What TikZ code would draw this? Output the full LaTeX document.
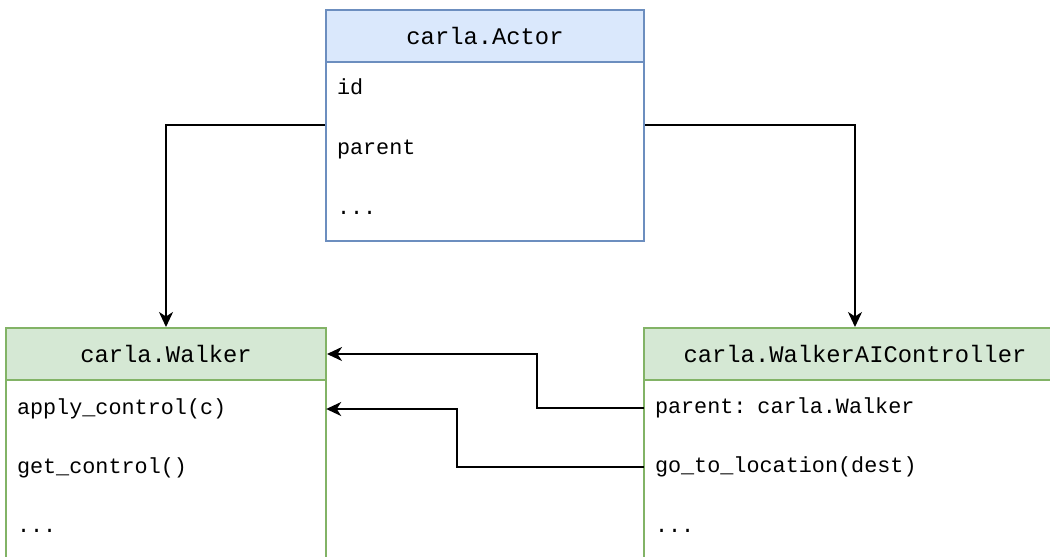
\documentclass[tikz,border=0pt]{standalone}
\usepackage{fontspec}
\newfontfamily\classmono{Liberation Mono}
\usetikzlibrary{arrows.meta}
\definecolor{blueFill}{HTML}{DAE8FC}
\definecolor{blueLine}{HTML}{6C8EBF}
\definecolor{greenFill}{HTML}{D5E8D4}
\definecolor{greenLine}{HTML}{82B366}
\tikzset{
  classbox/.style={rectangle, draw=#1, line width=2pt, fill=white, inner sep=0pt,
    minimum height=231pt},
  classhead/.style={rectangle, draw=#1, line width=2pt, inner sep=0pt,
    minimum height=52pt, font=\classmono\fontsize{23.8}{26}\selectfont},
  classrow/.style={rectangle, inner sep=0pt, minimum height=58pt, text width=#1,
    text height=15pt, text depth=5pt,
    align=left, font=\classmono\fontsize{21.8}{24}\selectfont},
  link/.style={line width=2pt, -{Stealth[length=15pt,width=14pt,inset=4.5pt]}}
}
\begin{document}
\begin{tikzpicture}[x=1pt,y=-1pt]
\useasboundingbox (0,0) rectangle (1050,557);
\begin{scope}
\clip (0,0) rectangle (1050,557);
% carla.Actor
\node[classbox=blueLine, minimum width=318pt] (actor) at (485,125) {};
\node[classhead=blueLine, fill=blueFill, minimum width=318pt] (actor-head) at (485,36) {carla.Actor};
\node[classrow=296pt] (actor-id) at (485,89) {id};
\node[classrow=296pt] (actor-parent) at (485,149) {parent};
\node[classrow=296pt] (actor-more) at (485,209) {...};
% carla.Walker
\node[classbox=greenLine, minimum width=320pt] (walker) at (166,443.5) {};
\node[classhead=greenLine, fill=greenFill, minimum width=320pt] (walker-head) at (166,354) {carla.Walker};
\node[classrow=298pt, minimum width=320pt] (walker-apply) at (166,409) {apply\_control(c)};
\node[classrow=298pt] (walker-get) at (166,468) {get\_control()};
\node[classrow=298pt] (walker-more) at (166,527) {...};
% carla.WalkerAIController
\node[classbox=greenLine, minimum width=422pt] (ctrl) at (855,443.5) {};
\node[classhead=greenLine, fill=greenFill, minimum width=422pt] (ctrl-head) at (855,354) {carla.WalkerAIController};
\node[classrow=400pt, minimum width=422pt] (ctrl-parent) at (855,408) {parent: carla.Walker};
\node[classrow=400pt, minimum width=422pt] (ctrl-goto) at (855,467) {go\_to\_location(dest)};
\node[classrow=400pt] (ctrl-more) at (855,527) {...};
\end{scope}
% inheritance and reference links
\draw[link] (actor.west) -| (walker.north);
\draw[link] (actor.east) -| (ctrl.north);
\draw[link] (ctrl-parent.west) -- ++(-107,0) |- (walker-head.east);
\draw[link] (ctrl-goto.west) -- ++(-187,0) |- (walker-apply.east);
\end{tikzpicture}
\end{document}
